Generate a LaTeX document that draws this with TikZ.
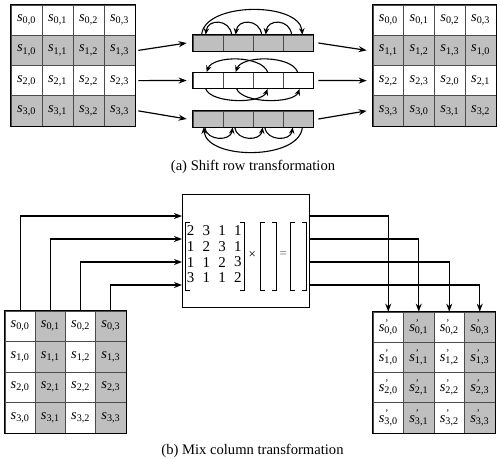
\documentclass[tikz,border=0pt]{standalone}
\usepackage{fontspec}
\setmainfont{Liberation Serif}
\usetikzlibrary{arrows.meta}
\newcommand\cs[2]{\textit{s}\textsubscript{#1,#2}}
\newcommand\csp[2]{\textit{s}\makebox[0pt][l]{\textsuperscript{\kern0.6pt’}}\textsubscript{#1,#2}}
\begin{document}
\begin{tikzpicture}[x=1pt,y=-1pt,
  cellbox/.style={draw=black!70, line width=0.7pt, inner sep=0pt, font=\fontsize{14.5}{16}\selectfont},
  barcell/.style={draw=black!70, line width=0.7pt, minimum width=30pt, minimum height=16pt, inner sep=0pt},
  outer/.style={draw=black, line width=0.9pt},
  arr/.style={line width=1.2pt, -{Stealth[length=8pt,width=6pt]}},
  arcarr/.style={line width=1.1pt, -{Stealth[length=6.5pt,width=5.5pt]}},
  capt/.style={font=\fontsize{14.6}{17}\selectfont},
  digit/.style={inner sep=0pt, font=\fontsize{15}{16}\selectfont},
  brk/.style={line width=0.7pt},
]
\useasboundingbox (0,0) rectangle (500,458);

% ---------- (a) shift rows ----------
% left grid
\foreach \i in {0,...,3}{\foreach \j in {0,...,3}{
  \pgfmathtruncatemacro\g{mod(\i,2)}
  \ifnum\g=1 \def\fc{gray!50}\else\def\fc{white}\fi
  \node[cellbox, fill=\fc, minimum width=31pt, minimum height=30.25pt]
    (A\i\j) at ({26.5+31*\j},{20.125+30.25*\i}) {\cs{\i}{\j}};
}}
\draw[outer] (A00.north west) rectangle (A33.south east);
% right grid
\foreach \i in {0,...,3}{\foreach \j in {0,...,3}{
  \pgfmathtruncatemacro\g{mod(\i,2)}
  \pgfmathtruncatemacro\k{mod(\i+\j,4)}
  \ifnum\g=1 \def\fc{gray!50}\else\def\fc{white}\fi
  \node[cellbox, fill=\fc, minimum width=30.75pt, minimum height=30.25pt]
    (R\i\j) at ({388.375+30.75*\j},{20.125+30.25*\i}) {\cs{\i}{\k}};
}}
\draw[outer] (R00.north west) rectangle (R33.south east);
% bars
\foreach \b/\y/\f in {1/43/gray!50, 2/80.5/white, 3/119/gray!50}{
  \foreach \j in {0,...,3}{
    \node[barcell, fill=\f] (B\b c\j) at ({208+30*\j},\y) {};
  }
  \draw[outer] (B\b c0.north west) rectangle (B\b c3.south east);
}
% arcs bar 1
\foreach \k/\kk in {0/1,1/2,2/3}{
  \draw[arcarr] ([xshift=9pt]B1c\kk.north west) .. controls +(-2,-16) and +(2,-16) .. ([xshift=13pt]B1c\k.north west);
}
\draw[arcarr] ([xshift=9pt]B1c0.north west) .. controls +(3,-33) and +(-3,-33) .. ([xshift=-11pt]B1c3.north east);
% arcs bar 2
\draw[arcarr] ([xshift=15pt]B2c2.north west) .. controls +(-6,-17) and +(6,-17) .. ([xshift=14pt]B2c0.north west);
\draw[arcarr] ([xshift=15pt]B2c3.north west) .. controls +(-6,-17) and +(6,-17) .. ([xshift=13pt]B2c1.north west);
\draw[arcarr] ([xshift=13pt]B2c0.south west) .. controls +(6,15) and +(-6,15) .. ([xshift=15pt]B2c2.south west);
\draw[arcarr] ([xshift=14pt]B2c1.south west) .. controls +(6,15) and +(-6,15) .. ([xshift=17pt]B2c3.south west);
% arcs bar 3
\foreach \k/\kk in {0/1,1/2,2/3}{
  \draw[arcarr] ([xshift=12pt]B3c\k.south west) .. controls +(2,14) and +(-2,14) .. ([xshift=10pt]B3c\kk.south west);
}
\draw[arcarr] ([xshift=-11pt]B3c3.south east) .. controls +(-3,33) and +(3,33) .. ([xshift=11pt]B3c0.south west);
% connectors
\draw[arr] ([xshift=3pt]A13.east) -- ([xshift=-6pt]B1c0.west);
\draw[arr] ([xshift=3pt]A23.east) -- ([xshift=-6pt]B2c0.west);
\draw[arr] ([xshift=3pt]A33.east) -- ([xshift=-6pt]B3c0.west);
\draw[arr] ([xshift=5pt]B1c3.east) -- ([xshift=-6pt]R10.west);
\draw[arr] ([xshift=5pt]B2c3.east) -- ([xshift=-6pt]R20.west);
\draw[arr] ([xshift=5pt]B3c3.east) -- ([xshift=-6pt]R30.west);
\node[capt] (capa) at (253,167) {(a) Shift row transformation};

% ---------- (b) mix columns ----------
\foreach \i in {0,...,3}{\foreach \j in {0,...,3}{
  \pgfmathtruncatemacro\g{mod(\j,2)}
  \ifnum\g=1 \def\fc{gray!50}\else\def\fc{white}\fi
  \node[cellbox, fill=\fc, minimum width=30.25pt, minimum height=30.5pt]
    (P\i\j) at ({20.125+30.25*\j},{326.25+30.5*\i}) {\cs{\i}{\j}};
  \node[cellbox, fill=\fc, minimum width=30.5pt, minimum height=30.25pt]
    (Q\i\j) at ({388.25+30.5*\j},{327.125+30.25*\i}) {\csp{\i}{\j}};
}}
\draw[outer] (P00.north west) rectangle (P33.south east);
\draw[outer] (Q00.north west) rectangle (Q33.south east);
% box
\node[draw, line width=0.9pt, minimum width=127pt, minimum height=113pt, inner sep=0pt] (M) at (245.5,250.5) {};
\foreach \n/\y in {0/216,1/239,2/262,3/285}{
  \coordinate (in\n) at (182,\y);
  \coordinate (out\n) at (309,\y);
  \draw[arr] (P0\n.north) |- (in\n);
  \draw[arr] (out\n) -| (Q0\n.north);
}
% matrix
\foreach \r/\row in {0/{2,3,1,1},1/{1,2,3,1},2/{1,1,2,3},3/{3,1,1,2}}{
  \foreach \v [count=\c from 0] in \row {
    \node[digit] (d\r\c) at ({190.7+15.7*\c},{230.5+15.8*\r}) {\v};
  }
}
\draw[brk] (189.5,222) -- (185.5,222) -- (185.5,290) -- (189.5,290);
\draw[brk] (240,222) -- (244,222) -- (244,290) -- (240,290);
\node[digit, font=\fontsize{13}{14}\selectfont] (times) at (252.2,255) {×};
\draw[brk] (264.5,222) -- (260.5,222) -- (260.5,290) -- (264.5,290);
\draw[brk] (272,222) -- (276,222) -- (276,290) -- (272,290);
\node[digit, font=\fontsize{13}{14}\selectfont, text=black!60] (eq) at (283.3,255) {=};
\draw[brk] (294.5,222) -- (290.5,222) -- (290.5,290) -- (294.5,290);
\draw[brk] (302,222) -- (306,222) -- (306,290) -- (302,290);
\node[capt] (capb) at (252.5,451) {(b) Mix column transformation};
\end{tikzpicture}
\end{document}
